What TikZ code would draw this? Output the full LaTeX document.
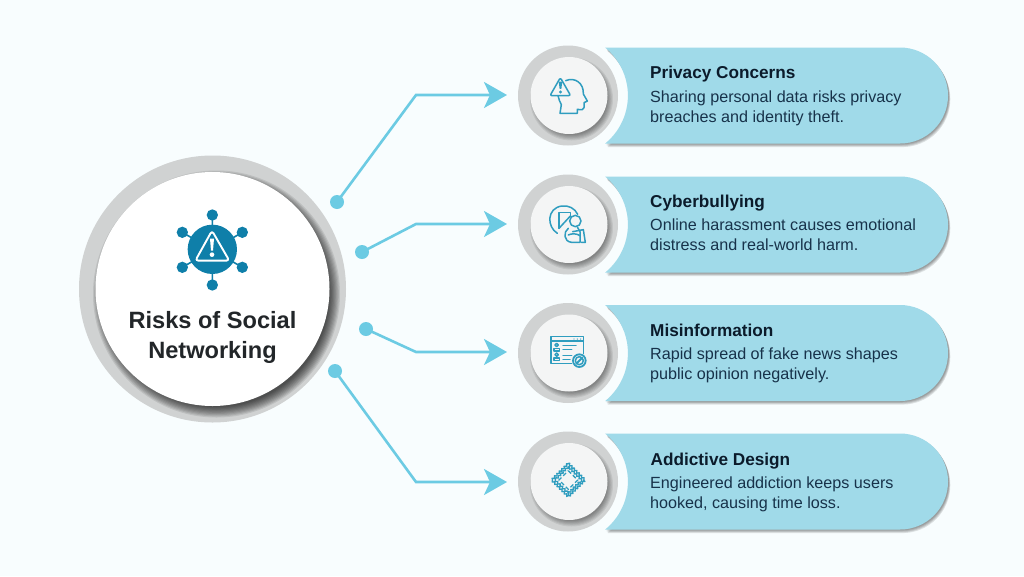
\documentclass[tikz,border=0pt]{standalone}
\usepackage{fontspec}
\setmainfont{Liberation Sans}
\usetikzlibrary{arrows.meta,decorations.pathmorphing}
\definecolor{bgc}{HTML}{F8FDFE}
\definecolor{ban}{HTML}{A0DAE9}
\definecolor{ring}{HTML}{D0D2D2}
\definecolor{disc}{HTML}{F4F5F5}
\definecolor{conn}{HTML}{6CCBE3}
\definecolor{ico}{HTML}{2F9DBF}
\definecolor{mainico}{HTML}{0F7FA9}
\definecolor{ttl}{HTML}{0B1B2B}
\definecolor{bod}{HTML}{17324A}
\definecolor{mainttl}{HTML}{222629}
\tikzset{
  dotn/.style={circle,fill=conn,inner sep=0pt,minimum size=14pt},
  link/.style={draw=conn,line width=2.6pt,-{Stealth[length=23pt,width=26pt,inset=6pt]}},
  ttlt/.style={anchor=base west,inner sep=0pt,font=\bfseries\fontsize{17.2}{20}\selectfont,text=ttl},
  bodt/.style={anchor=north west,inner sep=0pt,align=left,font=\fontsize{16.15}{20}\selectfont,text=bod},
  mainlabel/.style={align=center,inner sep=0pt,font=\bfseries\fontsize{23.6}{30}\selectfont,text=mainttl},
  iconln/.style={draw=ico,line width=1.5pt,line cap=round,line join=round},
  iconz/.style={x=0.3333pt,y=-0.3333pt}
}
% soft shadow of a disc: x y smallest-r largest-r layers opacity
\newcommand{\softdisc}[6]{%
  \foreach \k in {1,...,#5}{
    \fill[black,opacity=#6] (#1,#2) circle ({#3+(#4-#3)*(\k-1)/(#5-1)});
  }}
\newcommand{\banshape}[1]{(605.2,{#1-48}) -- (900,{#1-48}) arc(-90:90:48) -- (605.2,{#1+48}) arc(50.7:-50.7:62) -- cycle}
\newcommand{\rowshape}[1]{%
  \foreach \k in {1,2,3,4}{
    \begin{scope}[shift={({0.5+0.45*\k},{0.9*\k})}]
    \fill[black,opacity=0.11] \banshape{#1};
    \end{scope}
  }
  \fill[ban] \banshape{#1};
  \fill[ring] (568,#1) circle (50);
  \begin{scope}
    \clip (568,#1) circle (50);
    \softdisc{571.5}{#1+3.5}{36}{41.5}{6}{0.07}
  \end{scope}
  \fill[disc] (569,#1) circle (38.5);
}
\begin{document}
\begin{tikzpicture}[x=1pt,y=-1pt]
\useasboundingbox (0,0) rectangle (1024,576);
\fill[bgc] (0,0) rectangle (1024,576);

% banners
\rowshape{95.5}
\rowshape{224.5}
\rowshape{353}
\rowshape{481.5}

% big circle
\fill[ring] (212.5,289) circle (133.5);
\begin{scope}
  \clip (212.5,289) circle (133.5);
  \softdisc{216.5}{294}{113}{123.5}{10}{0.09}
\end{scope}
\fill[white] (212.5,289) circle (117);

% main icon
\begin{scope}[shift={(150,190)},iconz]
  \draw[mainico,line width=1.6pt] (187,75)--(187,285) (97,127)--(277,232) (97,232)--(277,127);
  \fill[mainico] (187,75) circle (17) (97,127) circle (17) (277,127) circle (17) (97,232) circle (17) (277,232) circle (17) (187,285) circle (17);
  \fill[mainico] (187,178) circle (74);
  \draw[white,line width=1.9pt,line join=round,rounded corners=3pt] (186,122)--(136,212)--(238,212)--cycle;
  \fill[white] (180,146)--(192,146)--(189,182)--(183,182)--cycle;
  \fill[white] (186,194) circle (7);
\end{scope}
\node[mainlabel] (mainlab) at (212.5,337.5) {Risks of Social\\Networking};

% connectors
\node[dotn] (d1) at (337,202) {};
\node[dotn] (d2) at (362,252) {};
\node[dotn] (d3) at (366,329) {};
\node[dotn] (d4) at (335,371) {};
\coordinate (b1) at (416,95);
\coordinate (b2) at (416,224);
\coordinate (b3) at (416,352);
\coordinate (b4) at (416,482);
\coordinate (t1) at (507,95);
\coordinate (t2) at (507,224);
\coordinate (t3) at (507,352);
\coordinate (t4) at (507,482);
\draw[link] (d1.center) -- (b1) -- (t1);
\draw[link] (d2.center) -- (b2) -- (t2);
\draw[link] (d3.center) -- (b3) -- (t3);
\draw[link] (d4.center) -- (b4) -- (t4);

% head icon
\begin{scope}[shift={(500,30)},iconz]
  \draw[iconln,rounded corners=2pt] (181,143)--(150,197)--(212,197)--cycle;
  \fill[ico] (176,155)--(187,155)--(184,177)--(179,177)--cycle;
  \fill[ico] (181.5,186) circle (5);
  \draw[iconln] (197,152) .. controls (225,140) and (252,160) .. (250,192) -- (262,213) -- (252,218) -- (252,233) .. controls (252,240) and (245,240) .. (232,238) -- (232,250) -- (180,250) -- (184,224) .. controls (180,216) and (176,208) .. (174,197);
\end{scope}

% bullying icon
\begin{scope}[shift={(500,165)},iconz]
  \draw[iconln] (172,205) .. controls (140,185) and (140,130) .. (185,123) .. controls (205,120) and (225,130) .. (233,148);
  \draw[iconln] (177,190) -- (177,142) -- (212,142) -- (212,155);
  \draw[iconln] (177,190) -- (212,152);
  \draw[iconln] (226,168) circle (17);
  \draw[iconln] (205,190) .. controls (190,200) and (190,230) .. (215,232) -- (240,232) -- (240,200) -- (232,186);
  \draw[iconln] (218,200) -- (250,194) -- (256,232) -- (244,232);
  \draw[iconln] (205,210) .. controls (215,205) and (230,205) .. (240,212);
\end{scope}

% window icon
\begin{scope}[shift={(500,295)},iconz]
  \draw[iconln] (222,205) -- (153,205) -- (153,125) -- (250,125) -- (250,178);
  \draw[iconln] (153,138) -- (250,138);
  \fill[ico] (222,132) circle (2) (232,132) circle (2) (242,132) circle (2);
  \draw[iconln] (170,150) circle (5);
  \draw[iconln] (162,168) -- (162,160) -- (178,160) -- (178,168) -- cycle;
  \draw[iconln] (170,179) circle (5);
  \draw[iconln] (162,197) -- (162,189) -- (178,189) -- (178,197) -- cycle;
  \draw[iconln] (189,151) -- (228,151) (189,163) -- (215,163) (189,181) -- (215,181) (189,193) -- (210,193);
  \fill[disc] (238,197) circle (23);
  \draw[iconln,line width=1.8pt] (238,197) circle (19);
  \draw[iconln] (238,197) circle (12);
  \draw[iconln,line width=1.8pt] (229,206) -- (247,188);
\end{scope}

% addictive icon
\begin{scope}[shift={(500,425)},iconz]
  \draw[ico,line width=1.3pt,line join=round,decorate,decoration={zigzag,segment length=3.4pt,amplitude=1pt}] (205,115) -- (255,165) -- (205,215) -- (155,165) -- cycle;
  \draw[ico,line width=1.3pt,line join=round,decorate,decoration={zigzag,segment length=3.4pt,amplitude=1pt}] (205,125) -- (245,165) -- (205,205) -- (165,165) -- cycle;
  \draw[ico,line width=1.3pt,dash pattern=on 4pt off 2.5pt] (205,137) -- (233,165) -- (205,193) -- (177,165) -- cycle;
\end{scope}

% texts
\node[ttlt] (t1a) at (650,78) {Privacy Concerns};
\node[bodt] (t1b) at (650,90.5) {Sharing personal data risks privacy\\breaches and identity theft.};
\node[ttlt] (t2a) at (650,207) {Cyberbullying};
\node[bodt] (t2b) at (650,218.5) {Online harassment causes emotional\\distress and real-world harm.};
\node[ttlt] (t3a) at (650,336) {Misinformation};
\node[bodt] (t3b) at (650,347.5) {Rapid spread of fake news shapes\\public opinion negatively.};
\node[ttlt] (t4a) at (650.5,465) {Addictive Design};
\node[bodt] (t4b) at (650,477) {Engineered addiction keeps users\\hooked, causing time loss.};
\end{tikzpicture}
\end{document}
